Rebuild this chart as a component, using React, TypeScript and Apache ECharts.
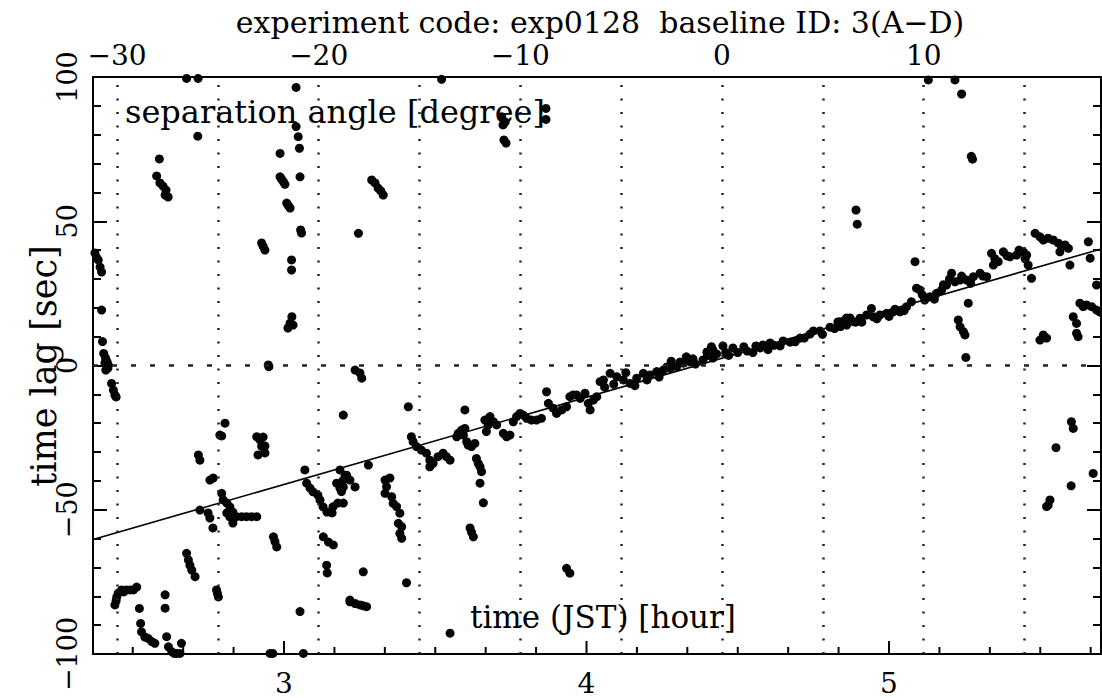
import React, { useEffect, useRef } from "react";
import * as echarts from "echarts";

// ---- data ----
const hourTicks = [3, 4, 5];
const hourMinorTicks = [2.5, 2.6667, 2.8333, 3.1667, 3.3333, 3.5, 3.6667, 3.8333, 4.1667, 4.3333, 4.5, 4.6667, 4.8333, 5.1667, 5.3333, 5.5, 5.6667];
const angleTicks = [-30, -20, -10, 0, 10];
const angleGrid = [-30, -25, -20, -15, -10, -5, 0, 5, 10, 15];

const fitLine = [[2.3686, -60.3], [5.7008, 40.4]];

const upperOutliers = [
  [2.678, 99.5], [2.716, 99.5], [3.040, 96.4], [2.715, 79.5], [2.588, 71.6],
  [2.579, 65.7], [2.590, 63.3], [2.600, 62.2], [2.610, 60.8], [2.607, 59.1], [2.617, 58.4],
  [2.987, 73.5], [3.040, 82.8], [3.047, 79.3], [3.051, 75.3],
  [2.987, 65.4], [2.998, 63.7], [2.992, 64.6], [3.003, 62.8],
  [3.053, 65.4], [3.009, 56.3], [3.020, 54.6], [3.014, 55.5],
  [3.055, 47.0], [3.058, 45.9], [2.926, 42.5], [2.937, 40.0], [2.931, 41.3],
  [3.025, 36.6], [3.025, 33.1],
  [3.026, 16.9], [3.020, 14.7], [3.013, 13.0], [3.030, 14.0],
  [2.375, 39.0], [2.380, 37.5], [2.386, 36.6], [2.392, 34.1], [2.397, 32.4], [2.397, 19.2], [2.400, 8.3],
  [2.404, 4.2], [2.410, 2.6], [2.415, 1.3], [2.419, 0.2],
  [2.948, 0.2], [2.950, -0.4],
  [3.521, 99.2], [3.720, 86.2], [3.731, 84.4], [3.724, 83.4], [3.727, 78.2], [3.734, 77.1], [3.866, 89.1], [3.866, 85.3],
  [3.290, 64.3], [3.301, 63.3], [3.311, 61.5], [3.320, 60.5], [3.328, 59.1], [3.246, 45.8],
  [5.130, 99.0], [5.218, 99.0], [5.240, 94.1], [5.276, 71.5], [5.272, 72.5], [4.891, 53.9], [4.895, 49.0], [5.086, 36.0],
];

const leftLowerCluster = [
  [2.408, 0.9], [2.418, -0.9], [2.411, -1.6], [2.430, -6.2], [2.436, -8.5], [2.441, -10.2], [2.445, -10.9],
  [2.805, -20.0], [2.788, -24.1], [2.794, -24.4],
  [2.910, -24.7], [2.921, -25.8], [2.931, -24.8], [2.937, -27.9], [2.914, -31.0], [2.937, -30.3], [2.926, -28.0],
  [3.196, -17.2], [2.717, -31.0], [2.722, -32.8], [2.755, -39.7], [2.766, -39.0],
  [2.794, -44.3], [2.799, -46.6], [2.811, -47.7], [2.821, -49.0], [2.831, -50.8],
  [2.811, -51.1], [2.821, -52.5], [2.831, -54.6],
  [2.843, -52.4], [2.860, -52.4], [2.876, -52.4], [2.893, -52.4], [2.910, -52.4],
  [2.722, -50.1], [2.749, -51.1], [2.755, -52.9], [2.765, -56.3],
  [2.965, -59.4], [2.970, -61.0], [2.976, -62.9], [3.069, -36.2],
  [3.075, -40.8], [3.086, -42.5], [3.096, -43.8], [3.112, -44.9], [3.119, -46.6], [3.129, -49.0], [3.142, -50.8], [3.159, -51.1],
  [3.174, -40.8], [3.196, -39.7], [3.207, -38.0], [3.185, -42.5], [3.178, -47.7], [3.162, -49.0],
  [3.130, -59.4], [3.147, -61.2], [3.163, -62.2], [3.141, -69.2], [3.143, -71.9], [3.218, -81.3],
  [2.678, -65.1], [2.684, -67.4], [2.689, -69.2], [2.695, -70.9], [2.706, -73.2],
  [2.777, -77.8], [2.780, -79.0], [2.783, -80.2],
  [2.441, -83.0], [2.447, -80.2], [2.452, -78.9], [2.463, -77.8], [2.479, -77.8], [2.491, -77.8], [2.502, -77.8], [2.513, -76.8],
  [2.445, -81.5], [2.470, -78.5], [2.522, -84.2], [2.526, -89.4],
  [2.529, -92.3], [2.540, -94.1], [2.551, -94.6], [2.563, -95.7], [2.573, -96.3],
  [2.607, -79.5], [2.607, -84.1], [2.612, -94.0],
  [2.618, -97.5], [2.629, -99.2], [2.637, -99.8], [2.645, -99.8], [2.656, -99.8], [2.661, -96.3],
  [2.954, -99.8], [2.963, -99.8], [3.064, -99.8], [3.053, -85.3],
  [3.262, -71.5], [3.218, -81.9], [3.235, -82.5], [3.251, -83.0], [3.262, -83.3], [3.273, -83.6],
];

const middleCluster = [
  [3.235, -1.6], [3.251, -2.6], [3.257, -4.4], [3.411, -14.3], [3.598, -15.4],
  [3.421, -24.7], [3.427, -26.4], [3.438, -28.1], [3.454, -29.3], [3.471, -30.4], [3.482, -32.8], [3.482, -35.1],
  [3.493, -33.9], [3.509, -31.6], [3.526, -30.4], [3.537, -31.6], [3.549, -32.8],
  [3.279, -34.5], [3.185, -36.2], [3.202, -38.0], [3.218, -39.7], [3.235, -42.1], [3.196, -42.1], [3.190, -43.7], [3.196, -47.7],
  [3.334, -39.7], [3.350, -39.0], [3.339, -42.0], [3.334, -44.3], [3.356, -45.5], [3.361, -47.8], [3.372, -48.9],
  [3.383, -51.2], [3.378, -54.7], [3.389, -55.9], [3.383, -58.2], [3.389, -59.9],
  [3.405, -75.3], [3.549, -92.8],
  [3.571, -24.7], [3.576, -23.5], [3.593, -24.1], [3.587, -22.4], [3.598, -21.8], [3.604, -26.4], [3.609, -27.6], [3.620, -28.1], [3.631, -27.0],
  [3.636, -32.2], [3.642, -33.9], [3.648, -35.1], [3.653, -36.8], [3.648, -40.8], [3.659, -47.6],
  [3.615, -56.3], [3.620, -57.8], [3.626, -59.4],
  [3.664, -18.9], [3.675, -20.6], [3.681, -17.7], [3.692, -19.5], [3.703, -20.6], [3.669, -22.9],
  [3.725, -23.5], [3.736, -24.7], [3.747, -24.1],
  [3.758, -19.5], [3.769, -17.7], [3.780, -16.6], [3.791, -17.2], [3.802, -18.3], [3.818, -18.9], [3.835, -18.9], [3.851, -18.3],
  [3.868, -9.1], [3.874, -13.1], [3.890, -14.8], [3.901, -16.6], [3.918, -15.4], [3.934, -14.3],
  [3.945, -10.8], [3.956, -10.2], [3.967, -10.2], [3.979, -11.4], [3.995, -9.6], [4.006, -13.1], [4.012, -15.4], [4.023, -12.0], [4.034, -10.8], [4.045, -5.6],
  [3.934, -70.3], [3.945, -72.0],
];

const centralBand = [
  [4.056, -5.0], [4.078, -2.7], [4.100, -3.9], [4.122, -5.0], [4.144, -6.2], [4.166, -4.4], [4.188, -2.7], [4.210, -3.3],
  [4.232, -2.1], [4.254, -1.6], [4.276, -1.0], [4.298, -0.4], [4.320, 0.8], [4.342, 1.3], [4.385, 1.9], [4.418, 2.6],
  [4.266, -0.5], [4.309, 1.2], [4.352, 2.3], [4.398, 4.7], [4.418, 5.4], [4.451, 6.8], [4.484, 6.1], [4.531, 5.0],
  [4.574, 6.1], [4.583, 7.1], [4.607, 7.8], [4.640, 6.8], [4.673, 8.1], [4.706, 9.5], [4.739, 10.9], [4.772, 12.0],
  [4.805, 13.3], [4.831, 15.1], [4.855, 15.8], [4.871, 16.5], [4.413, 6.5],
  [4.06, -7.5], [4.09, -6.5], [4.13, -2.5], [4.16, -7.0], [4.20, -5.0], [4.24, -4.0], [4.28, 1.5], [4.33, 3.0],
  [4.36, 0.5], [4.40, 3.5], [4.43, 4.0], [4.46, 4.5], [4.47, 3.5], [4.50, 4.5], [4.52, 6.5], [4.55, 4.5], [4.56, 6.8],
  [4.60, 5.5], [4.62, 7.0], [4.65, 8.5], [4.69, 8.2], [4.72, 9.5], [4.75, 12.0], [4.78, 10.8], [4.82, 12.8], [4.84, 13.5], [4.86, 14.0], [4.89, 15.0],
];

const upperBand = [
  [4.838, 15.2], [4.882, 15.2], [4.904, 16.4], [4.926, 17.5], [4.942, 19.8], [4.948, 16.9], [4.970, 17.5], [4.992, 18.1],
  [5.014, 18.6], [5.036, 18.6], [5.058, 20.4], [5.074, 22.1], [5.091, 26.8], [5.102, 26.2], [5.118, 22.7], [5.135, 23.8],
  [5.157, 25.0], [5.174, 26.2], [5.190, 27.9], [5.207, 32.0], [5.218, 29.0], [5.235, 29.6], [5.257, 29.6], [5.279, 30.8],
  [5.301, 32.0], [5.323, 30.8], [5.339, 38.9], [5.345, 34.8], [5.361, 36.0], [5.378, 39.4], [5.400, 37.7], [5.422, 38.3],
  [5.444, 39.4], [5.455, 38.3], [5.460, 34.8], [5.471, 30.2],
  [4.86, 16.5], [4.91, 15.0], [4.96, 16.2], [5.00, 17.0], [5.02, 19.5], [5.05, 19.0], [5.11, 24.5], [5.15, 23.0],
  [5.18, 28.0], [5.20, 30.0], [5.24, 31.0], [5.27, 28.5], [5.31, 31.0], [5.35, 37.0], [5.39, 38.0], [5.43, 40.0], [5.45, 37.0],
];

const rightCluster = [
  [5.483, 45.8], [5.499, 44.6], [5.510, 43.5], [5.526, 44.1], [5.543, 43.5], [5.560, 42.4], [5.571, 41.2], [5.582, 41.8],
  [5.593, 40.6], [5.565, 39.4], [5.598, 34.8], [5.659, 42.9], [5.665, 37.2], [5.686, 27.9],
  [5.262, 21.6], [5.229, 15.8], [5.235, 13.4], [5.246, 11.7], [5.251, 10.6], [5.254, 2.8],
  [5.499, 8.8], [5.521, 9.5], [5.510, 10.6],
  [5.609, 16.9], [5.620, 14.6], [5.631, 21.6], [5.642, 20.4], [5.653, 21.0], [5.670, 20.4], [5.686, 19.2], [5.620, 11.2], [5.625, 10.0], [5.698, 18.5],
  [5.603, -19.5], [5.609, -21.8], [5.552, -28.5], [5.675, -37.4], [5.602, -41.7], [5.532, -46.6], [5.526, -48.4], [5.521, -48.9],
];

const FONT = "DejaVu Serif";
const minus = (v: any) => String(v).replace("-", "\u2212");
const H_MIN = 2.3686, H_MAX = 5.7008;

export default function App() {
  const ref = useRef<HTMLDivElement>(null);
  useEffect(() => {
    if (!ref.current) return;
    const chart = echarts.init(ref.current, null, { renderer: "svg" });
    const points = [...upperOutliers, ...leftLowerCluster, ...middleCluster, ...centralBand, ...upperBand, ...rightCluster];
    const aMin = (H_MIN - 4.448) * 15, aMax = (H_MAX - 4.448) * 15;
    const xTickData = [...hourTicks.map((h) => [h, 13]), ...hourMinorTicks.map((h) => [h, 7])];
    const yTick = { show: true, inside: true, length: 14, lineStyle: { color: "#000", width: 2 } };
    const yMinor = { show: true, splitNumber: 5, length: 8, lineStyle: { color: "#000", width: 2 } };
    chart.setOption({
      animation: false,
      backgroundColor: "#fff",
      grid: { left: 93, right: 1, top: 77, bottom: 44, containLabel: false },
      xAxis: [
        {
          type: "value", position: "bottom", min: H_MIN, max: H_MAX,
          axisLine: { show: true, onZero: false, lineStyle: { color: "#000", width: 2 } },
          axisTick: { show: false },
          axisLabel: { customValues: hourTicks, color: "#000", fontFamily: FONT, fontSize: 28, margin: 15 },
          splitLine: { show: false },
        },
        {
          type: "value", position: "top", min: aMin, max: aMax,
          axisLine: { show: true, onZero: false, lineStyle: { color: "#000", width: 2 } },
          axisTick: { show: false },
          axisLabel: { customValues: angleTicks, color: "#000", fontFamily: FONT, fontSize: 28, margin: 8, formatter: minus },
          splitLine: { show: false },
        },
      ],
      yAxis: [
        {
          type: "value", position: "left", min: -100, max: 100, interval: 50,
          axisLine: { show: true, onZero: false, lineStyle: { color: "#000", width: 2 } },
          axisTick: { ...yTick },
          minorTick: { ...yMinor },
          axisLabel: { rotate: 90, color: "#000", fontFamily: FONT, fontSize: 27, margin: 12, formatter: minus },
          splitLine: { show: false },
        },
        {
          type: "value", position: "right", min: -100, max: 100, interval: 50,
          axisLine: { show: true, onZero: false, lineStyle: { color: "#000", width: 2 } },
          axisTick: { ...yTick },
          minorTick: { ...yMinor },
          axisLabel: { show: false },
          splitLine: { show: false },
        },
      ],
      series: [
        {
          type: "line", xAxisIndex: 1, yAxisIndex: 0, data: [], silent: true,
          markLine: {
            silent: true, symbol: "none", label: { show: false },
            lineStyle: { color: "#222", width: 2.5, type: [2, 11.5] },
            data: angleGrid.map((a) => ({ xAxis: a })),
          },
        },
        {
          type: "line", xAxisIndex: 0, yAxisIndex: 0, data: [], silent: true,
          markLine: {
            silent: true, symbol: "none", label: { show: false },
            lineStyle: { color: "#222", width: 2.5, type: [5, 14] },
            data: [{ yAxis: 0 }],
          },
        },
        {
          type: "custom", xAxisIndex: 0, yAxisIndex: 0, data: xTickData, silent: true, clip: false, z: 5,
          renderItem: (params: any, api: any) => {
            const x = api.coord([api.value(0), -100])[0];
            const yb = api.coord([H_MIN, -100])[1];
            const len = api.value(1);
            return { type: "line", shape: { x1: x, y1: yb, x2: x, y2: yb - len }, style: { stroke: "#000", lineWidth: 2 } };
          },
        },
        {
          type: "line", xAxisIndex: 0, yAxisIndex: 0, data: fitLine, showSymbol: false, silent: true,
          lineStyle: { color: "#000", width: 1.6 }, z: 3,
        },
        {
          type: "scatter", xAxisIndex: 0, yAxisIndex: 0, data: points, symbolSize: 9, silent: true,
          itemStyle: { color: "#050505", opacity: 1 }, z: 4,
        },
      ],
      graphic: [
        { type: "text", x: 600, y: 22, style: { text: "experiment code: exp0128  baseline ID: 3(A\u2212D)", fontFamily: FONT, fontSize: 30, fill: "#000", textAlign: "center", textVerticalAlign: "middle" }, z: 10 },
        { type: "text", x: 125, y: 112, style: { text: "separation angle [degree]", fontFamily: FONT, fontSize: 32, fill: "#000", textAlign: "left", textVerticalAlign: "middle" }, z: 10 },
        { type: "text", x: 470, y: 617, style: { text: "time (JST) [hour]", fontFamily: FONT, fontSize: 31, fill: "#000", textAlign: "left", textVerticalAlign: "middle" }, z: 10 },
        { type: "text", x: 44, y: 366, rotation: Math.PI / 2, style: { text: "time lag [sec]", fontFamily: FONT, fontSize: 35, fill: "#000", textAlign: "center", textVerticalAlign: "middle" }, z: 10 },
      ],
    });
    return () => chart.dispose();
  }, []);
  return <div ref={ref} style={{ position: "absolute", left: 0, top: 0, width: 1102, height: 698 }} />;
}
